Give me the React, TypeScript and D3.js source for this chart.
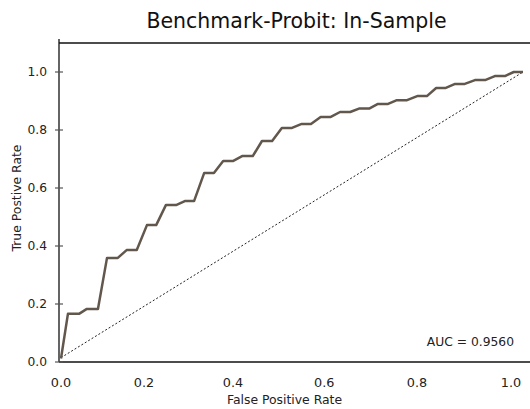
import React, { useRef, useEffect } from 'react';
import * as d3 from 'd3';

const FPR = [0, 0.015, 0.039, 0.056, 0.080, 0.0996, 0.123, 0.142, 0.164, 0.186, 0.206, 0.227, 0.249, 0.268, 0.288,
    0.310, 0.331, 0.351, 0.372, 0.392, 0.415, 0.435, 0.457, 0.478, 0.500, 0.521, 0.541, 0.562, 0.584, 0.604, 0.626,
    0.645, 0.667, 0.686, 0.708, 0.727, 0.749, 0.771, 0.792, 0.812, 0.833, 0.853, 0.874, 0.896, 0.918, 0.939, 0.961,
    0.980, 1.0];
const TPR = [0.012, 0.166, 0.166, 0.183, 0.183, 0.359, 0.359, 0.386, 0.386, 0.472, 0.472, 0.541, 0.541, 0.555, 0.555,
    0.652, 0.652, 0.693, 0.693, 0.710, 0.710, 0.762, 0.762, 0.807, 0.807, 0.821, 0.821, 0.845, 0.845, 0.862, 0.862,
    0.874, 0.874, 0.890, 0.890, 0.903, 0.903, 0.917, 0.917, 0.945, 0.945, 0.959, 0.959, 0.972, 0.972, 0.986, 0.986,
    1.0, 1.0];
const DIAG = [[0, 0.015], [1, 1]];
const Y_TICKS = [0, 0.2, 0.4, 0.6, 0.8, 1.0];
const X_TICKS = [0, 0.2, 0.4, 0.6, 0.8, 1.0];
const TITLE = "Benchmark-Probit: In-Sample";
const AUC_TEXT = "AUC = 0.9560";

const FONT = "'DejaVu Sans', Verdana, sans-serif";

function RocChart() {
    const svgRef = useRef(null);
    const width = 530;
    const height = 409;

    useEffect(() => {
        const svg = d3.select(svgRef.current);
        svg.selectAll("*").remove();

        const x = d3.scaleLinear().domain([0, 1]).range([61, 523]);
        // tick labels in the source sit slightly off the data scale
        const xLab = d3.scalePow().exponent(1.05).domain([0, 1]).range([61, 511]);
        const y = d3.scaleLinear().domain([0, 1.1]).range([362, 43]);

        // frame
        svg.append("line").attr("x1", 59).attr("x2", 530).attr("y1", 43).attr("y2", 43)
            .attr("stroke", "#111").attr("stroke-width", 1.3);
        svg.append("line").attr("x1", 59).attr("x2", 530).attr("y1", 362).attr("y2", 362)
            .attr("stroke", "#111").attr("stroke-width", 1.3);
        svg.append("line").attr("x1", 59).attr("x2", 59).attr("y1", 39).attr("y2", 362)
            .attr("stroke", "#111").attr("stroke-width", 1.3);

        // y ticks
        const yg = svg.append("g");
        Y_TICKS.forEach(t => {
            yg.append("line").attr("x1", 55).attr("x2", 63).attr("y1", y(t)).attr("y2", y(t))
                .attr("stroke", "#555").attr("stroke-width", 1.2);
            yg.append("text").attr("x", 47).attr("y", y(t)).attr("dy", "0.36em")
                .attr("text-anchor", "end").attr("font-size", 12.3).attr("font-family", FONT)
                .attr("fill", "#222").text(t.toFixed(1));
        });

        // x tick labels
        X_TICKS.forEach(t => {
            svg.append("text").attr("x", xLab(t)).attr("y", 387)
                .attr("text-anchor", "middle").attr("font-size", 12.8).attr("font-family", FONT)
                .attr("fill", "#222").text(t.toFixed(1));
        });

        // diagonal
        svg.append("path")
            .attr("d", d3.line().x(d => x(d[0])).y(d => y(d[1]))(DIAG))
            .attr("fill", "none").attr("stroke", "#222").attr("stroke-width", 1)
            .attr("stroke-dasharray", "2,2");

        // roc curve
        const pts = FPR.map((f, i) => [f, TPR[i]]);
        svg.append("path")
            .attr("d", d3.line().x(d => x(d[0])).y(d => y(d[1]))(pts))
            .attr("fill", "none").attr("stroke", "#62574c").attr("stroke-width", 2.5)
            .attr("stroke-linejoin", "round");

        // texts
        svg.append("text").attr("x", 296.5).attr("y", 28).attr("text-anchor", "middle")
            .attr("font-size", 20.5).attr("font-family", FONT).attr("fill", "#111").text(TITLE);
        svg.append("text").attr("x", 284.5).attr("y", 404).attr("text-anchor", "middle")
            .attr("font-size", 12.4).attr("font-family", FONT).attr("fill", "#222").text("False Positive Rate");
        svg.append("text").attr("transform", "translate(21,198) rotate(-90)").attr("text-anchor", "middle")
            .attr("font-size", 12.4).attr("font-family", FONT).attr("fill", "#222").text("True Postive Rate");
        svg.append("text").attr("x", 514).attr("y", 346).attr("text-anchor", "end")
            .attr("font-size", 12.3).attr("font-family", FONT).attr("fill", "#222").text(AUC_TEXT);
    }, []);

    return <svg ref={svgRef} width={width} height={height} style={{ display: "block" }} />;
}

export default function App() {
    return (
        <div style={{ position: "fixed", left: 0, top: 0, background: "#fff" }}>
            <RocChart />
        </div>
    );
}
